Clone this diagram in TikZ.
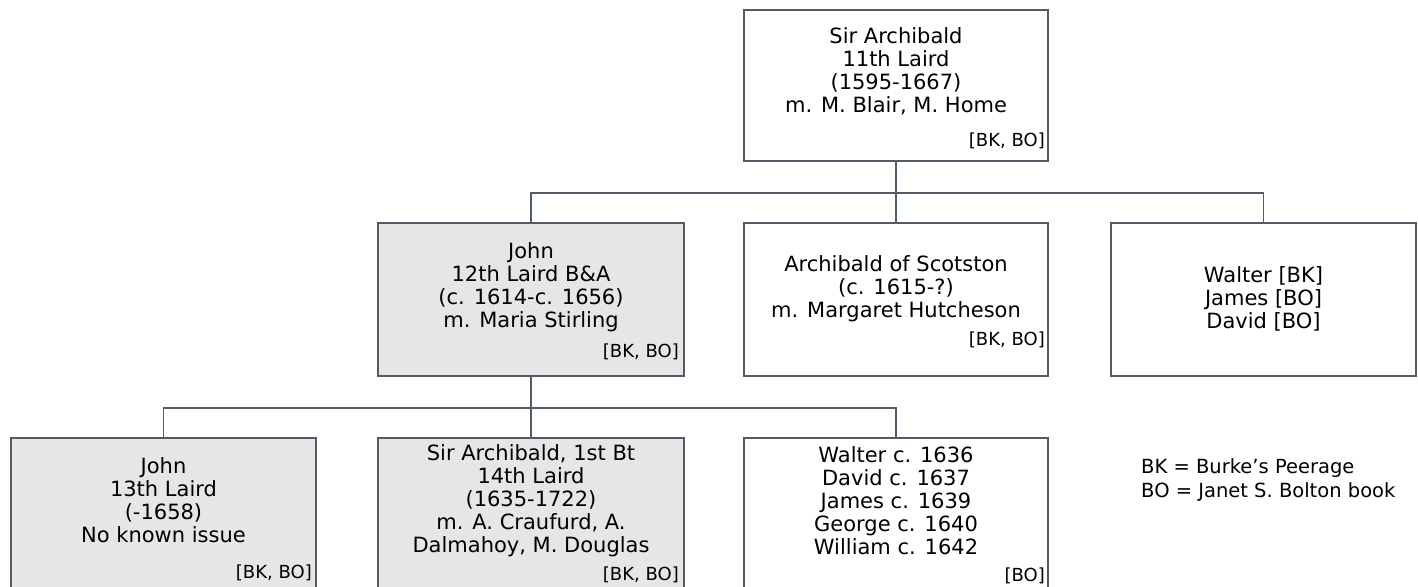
\documentclass[tikz,border=0pt]{standalone}
\usepackage{fontspec}
\setmainfont{DejaVu Sans}
\definecolor{edge}{HTML}{525B68}
\definecolor{boxfill}{HTML}{E6E6E6}
\begin{document}
\begin{tikzpicture}[x=1pt,y=-1pt,
  box/.style={draw=edge, line width=1.4pt, anchor=north west, inner sep=0pt, outer sep=0pt},
  gbox/.style={box, fill=boxfill},
  conn/.style={draw=edge, line width=1.2pt},
  txt/.style={align=center, inner sep=0pt, font=\fontsize{21}{23}\selectfont},
  lab/.style={anchor=east, inner sep=0pt, font=\fontsize{18}{20}\selectfont},
  legend/.style={anchor=west, inner sep=0pt, font=\fontsize{19.5}{22}\selectfont}
]
\useasboundingbox (0,0) rectangle (1418,586);
\clip (0,0) rectangle (1418,586);
% generation 1
\node[box, minimum width=304pt, minimum height=151pt] (top) at (744,10) {};
\node[txt] (toptxt) at (896,71.5) {Sir Archibald\\11th Laird\\(1595-1667)\\m. M. Blair, M. Home};
\node[lab] (toplab) at (1045,141) {[BK, BO]};
% generation 2
\node[gbox, minimum width=306pt, minimum height=153pt] (b21) at (378,223) {};
\node[txt] (b21txt) at (531,287) {John\\12th Laird B\&A\\(c. 1614-c. 1656)\\m. Maria Stirling};
\node[lab] (b21lab) at (679,352) {[BK, BO]};
\node[box, minimum width=304pt, minimum height=153pt] (b22) at (744,223) {};
\node[txt] (b22txt) at (896,289) {Archibald of Scotston\\(c. 1615-?)\\m. Margaret Hutcheson};
\node[lab] (b22lab) at (1045,340) {[BK, BO]};
\node[box, minimum width=305pt, minimum height=153pt] (b23) at (1111,223) {};
\node[txt] (b23txt) at (1263.5,299) {Walter [BK]\\James [BO]\\David [BO]};
% generation 3
\node[gbox, minimum width=305pt, minimum height=190pt] (b31) at (11,438) {};
\node[txt] (b31txt) at (163.5,500) {John\\13th Laird\\(-1658)\\No known issue};
\node[lab] (b31lab) at (312,573) {[BK, BO]};
\node[gbox, minimum width=306pt, minimum height=190pt] (b32) at (378,438) {};
\node[txt] (b32txt) at (531,501) {Sir Archibald, 1st Bt\\14th Laird\\(1635-1722)\\m. A. Craufurd, A.\\Dalmahoy, M. Douglas};
\node[lab] (b32lab) at (679,575) {[BK, BO]};
\node[box, minimum width=304pt, minimum height=190pt] (b33) at (744,438) {};
\node[txt] (b33txt) at (896,501) {Walter c. 1636\\David c. 1637\\James c. 1639\\George c. 1640\\William c. 1642};
\node[lab] (b33lab) at (1045,576) {[BO]};
% legend
\node[legend] (leg1) at (1141,468) {BK = Burke’s Peerage};
\node[legend] (leg2) at (1141,492) {BO = Janet S. Bolton book};
% connectors
\coordinate (j1) at (896,193);
\coordinate (j2) at (531,408);
\draw[conn] (top.south) -- (j1);
\draw[conn] (b21.north) |- (j1) -| (b23.north);
\draw[conn] (j1) -- (b22.north);
\draw[conn] (b21.south) -- (j2);
\draw[conn] (b31.north) |- (j2) -| (b33.north);
\draw[conn] (j2) -- (b32.north);
\end{tikzpicture}
\end{document}
